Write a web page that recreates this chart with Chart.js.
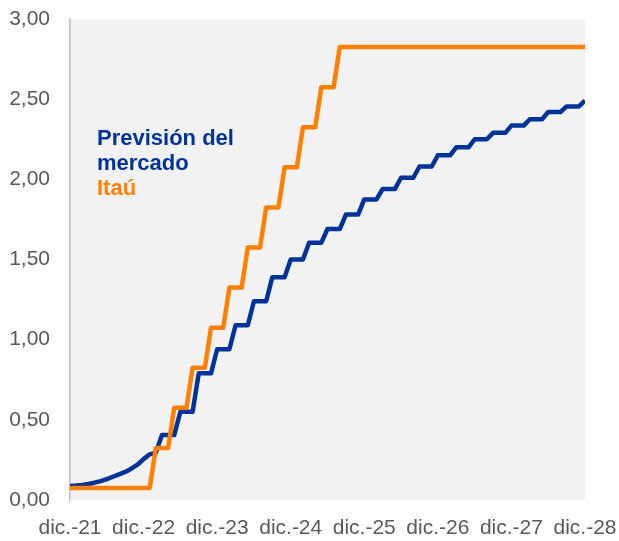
<!DOCTYPE html>
<html>
<head>
<meta charset="utf-8">
<script src="https://cdn.jsdelivr.net/npm/chart.js@4.4.0/dist/chart.umd.min.js"></script>
<style>
    html, body { margin: 0; padding: 0; background: #ffffff; }
    #wrap { width: 619px; height: 541px; position: relative; }
</style>
</head>
<body>
<div id="wrap"><canvas id="myChart"></canvas></div>
<script>
// eje x: meses desde dic.-21 (0) hasta dic.-28 (84)
const xTickLabels = ['dic.-21', 'dic.-22', 'dic.-23', 'dic.-24', 'dic.-25', 'dic.-26', 'dic.-27', 'dic.-28'];
const months = [];
for (let m = 0; m <= 84; m++) months.push(m);

// Previsión del mercado (azul)
const mercado = [
    0.088, 0.090, 0.094, 0.100, 0.108, 0.118, 0.130, 0.145, 0.160, 0.175, 0.195, 0.220, 0.255, 0.285, 0.295,
    0.405, 0.405, 0.405,
    0.550, 0.550, 0.550,
    0.790, 0.790, 0.790,
    0.940, 0.940, 0.940,
    1.090, 1.090, 1.090,
    1.240, 1.240, 1.240,
    1.390, 1.390, 1.390,
    1.500, 1.500, 1.500,
    1.605, 1.605, 1.605,
    1.690, 1.690, 1.690,
    1.780, 1.780, 1.780,
    1.875, 1.875, 1.875,
    1.940, 1.940, 1.940,
    2.010, 2.010, 2.010,
    2.080, 2.080, 2.080,
    2.150, 2.150, 2.150,
    2.200, 2.200, 2.200,
    2.250, 2.250, 2.250,
    2.290, 2.290, 2.290,
    2.335, 2.335, 2.335,
    2.375, 2.375, 2.375,
    2.420, 2.420, 2.420,
    2.455, 2.455, 2.455,
    2.490
];

// Itaú (naranja)
const itau = [
    0.075, 0.075, 0.075, 0.075, 0.075, 0.075, 0.075, 0.075, 0.075, 0.075, 0.075, 0.075, 0.075, 0.075,
    0.325, 0.325, 0.325,
    0.575, 0.575, 0.575,
    0.825, 0.825, 0.825,
    1.075, 1.075, 1.075,
    1.325, 1.325, 1.325,
    1.575, 1.575, 1.575,
    1.825, 1.825, 1.825,
    2.075, 2.075, 2.075,
    2.325, 2.325, 2.325,
    2.575, 2.575, 2.575,
    2.825, 2.825, 2.825, 2.825, 2.825, 2.825, 2.825, 2.825, 2.825, 2.825,
    2.825, 2.825, 2.825, 2.825, 2.825, 2.825, 2.825, 2.825, 2.825, 2.825,
    2.825, 2.825, 2.825, 2.825, 2.825, 2.825, 2.825, 2.825, 2.825, 2.825,
    2.825, 2.825, 2.825, 2.825, 2.825, 2.825, 2.825, 2.825, 2.825, 2.825,
    2.825
];

const blue = '#003399';
const orange = '#ff7f00';
const fontFamily = "'Liberation Sans', Arial, sans-serif";

// fondo gris del area del grafico
const plotBackground = {
    id: 'plotBackground',
    beforeDraw(chart) {
        const { ctx, chartArea } = chart;
        ctx.save();
        ctx.fillStyle = '#f2f2f2';
        ctx.fillRect(chartArea.left, chartArea.top, chartArea.right - chartArea.left, chartArea.bottom - chartArea.top);
        ctx.restore();
    }
};

// leyenda dentro del grafico
const inlineLegend = {
    id: 'inlineLegend',
    afterDraw(chart) {
        const { ctx, chartArea } = chart;
        const x = chartArea.left + 27;
        ctx.save();
        ctx.font = 'bold 22px ' + fontFamily;
        ctx.textBaseline = 'alphabetic';
        ctx.fillStyle = blue;
        ctx.fillText('Previsión del', x, chartArea.top + 126);
        ctx.fillText('mercado', x, chartArea.top + 151);
        ctx.fillStyle = orange;
        ctx.fillText('Itaú', x, chartArea.top + 176);
        ctx.restore();
    }
};

new Chart(document.getElementById('myChart'), {
    type: 'line',
    data: {
        labels: months,
        datasets: [{
            label: 'Previsión del mercado',
            data: mercado,
            borderColor: blue,
            borderWidth: 4.5,
            pointRadius: 0,
            tension: 0,
            borderJoinStyle: 'round',
            order: 1
        }, {
            label: 'Itaú',
            data: itau,
            borderColor: orange,
            borderWidth: 4.5,
            pointRadius: 0,
            tension: 0,
            borderJoinStyle: 'round',
            order: 0
        }]
    },
    options: {
        responsive: true,
        maintainAspectRatio: false,
        animation: false,
        layout: { padding: { top: 19, right: 34, left: 0, bottom: 0 } },
        plugins: {
            legend: { display: false },
            tooltip: { enabled: false }
        },
        scales: {
            x: {
                type: 'linear',
                min: 0,
                max: 84,
                grid: { display: false },
                border: { display: false },
                ticks: {
                    stepSize: 12,
                    autoSkip: false,
                    maxRotation: 0,
                    padding: 8,
                    color: '#595959',
                    font: { family: fontFamily, size: 21 },
                    callback: function(value) {
                        return xTickLabels[value / 12];
                    }
                },
                afterFit: function(scale) {
                    scale.height = 41;
                    scale.paddingLeft = 0;
                    scale.paddingRight = 0;
                }
            },
            y: {
                min: 0,
                max: 3,
                grid: { display: false, drawTicks: false },
                border: { display: true, color: '#bfbfbf', width: 1.5 },
                ticks: {
                    stepSize: 0.5,
                    padding: 20,
                    color: '#595959',
                    font: { family: fontFamily, size: 21 },
                    callback: function(value) {
                        return value.toFixed(2).replace('.', ',');
                    }
                },
                afterFit: function(scale) {
                    scale.width = 70;
                    scale.paddingTop = 0;
                    scale.paddingBottom = 0;
                }
            }
        }
    },
    plugins: [plotBackground, inlineLegend]
});
</script>
</body>
</html>
